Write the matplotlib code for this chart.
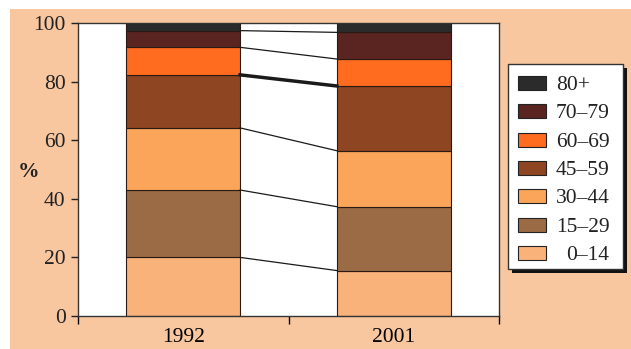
import numpy as np
import matplotlib.pyplot as plt
from matplotlib.patches import Rectangle

# dados (percentagem por faixa etária)
years = ['1992', '2001']
groups = ['0\u201314', '15\u201329', '30\u201344', '45\u201359', '60\u201369', '70\u201379', '80+']
share_1992 = [20.0, 23.0, 21.2, 18.1, 9.4, 5.7, 2.6]
share_2001 = [15.5, 21.8, 19.1, 22.1, 9.2, 9.1, 3.2]
colors = ['#F9B27A', '#9B6B45', '#FAA55A', '#8E4521', '#FF6B1F', '#5A2520', '#2B2B2B']

plt.rcParams['font.family'] = ['Liberation Serif', 'DejaVu Serif']

W, H = 631, 349
fig = plt.figure(figsize=(W / 100, H / 100), dpi=100)
fig.patch.set_facecolor('white')


def box(x0, y0, w, h, **kw):
    # retângulo em pixels (origem no canto superior esquerdo)
    r = Rectangle((x0 / W, 1 - (y0 + h) / H), w / W, h / H, transform=fig.transFigure, **kw)
    fig.add_artist(r)
    return r


# fundo laranja
box(10, 9, W, H, facecolor='#F8C7A0', edgecolor='none', zorder=-10)

ax = fig.add_axes([78 / W, 33 / H, 421 / W, 293 / H])
ax.set_facecolor('white')

x = np.arange(len(years))
width = 0.54
data = np.array([share_1992, share_2001])
bottoms = np.zeros(len(years))
for i, g in enumerate(groups):
    ax.bar(x, data[:, i], width, bottom=bottoms, color=colors[i],
           edgecolor='#2a1a14', linewidth=0.8, label=g, zorder=2)
    bottoms = bottoms + data[:, i]

# linhas de ligação entre as fronteiras
cum92 = np.cumsum(share_1992)[:-1]
cum01 = np.cumsum(share_2001)[:-1]
for k, (a, b) in enumerate(zip(cum92, cum01)):
    lw = 2.5 if k == 3 else 0.9
    ax.plot([x[0] + width / 2, x[1] - width / 2], [a, b], color='#1a1a1a', lw=lw, zorder=3)

fs = 15.5
ax.set_xlim(-0.5, 1.5)
ax.set_ylim(0, 100)
ax.set_yticks(np.arange(0, 101, 20))
ax.set_xticks(x)
ax.set_xticklabels(years)
ax.set_xticks([-0.5, 0.5, 1.5], minor=True)
ax.tick_params(axis='x', which='major', length=0, pad=9, labelsize=fs)
ax.tick_params(axis='x', which='minor', length=6, width=1, direction='out')
ax.tick_params(axis='y', length=5, width=1, pad=4, labelsize=fs, colors='#222222')
for s in ax.spines.values():
    s.set_linewidth(1)
    s.set_color('#333333')

fig.text(28 / W, 1 - 172 / H, '%', fontsize=fs, fontweight='bold',
         ha='center', va='center', color='#222222')

# legenda feita à mão (caixa com sombra preta)
box(512, 68, 115, 205, facecolor='#111111', edgecolor='none', zorder=5)
box(508, 64, 115, 205, facecolor='white', edgecolor='#333333', linewidth=1, zorder=6)
row0, step = 83, 28.3
for j, (g, c) in enumerate(zip(groups[::-1], colors[::-1])):
    yc = row0 + j * step
    box(518, yc - 7, 28, 14, facecolor=c, edgecolor='#222222', linewidth=0.8, zorder=7)
    if g == groups[0]:
        fig.text(609 / W, 1 - yc / H, g, fontsize=fs, ha='right', va='center_baseline',
                 color='#222222', zorder=7)
    else:
        fig.text(556 / W, 1 - yc / H, g, fontsize=fs, ha='left', va='center_baseline',
                 color='#222222', zorder=7)

fig.savefig('out.png', dpi=100)
